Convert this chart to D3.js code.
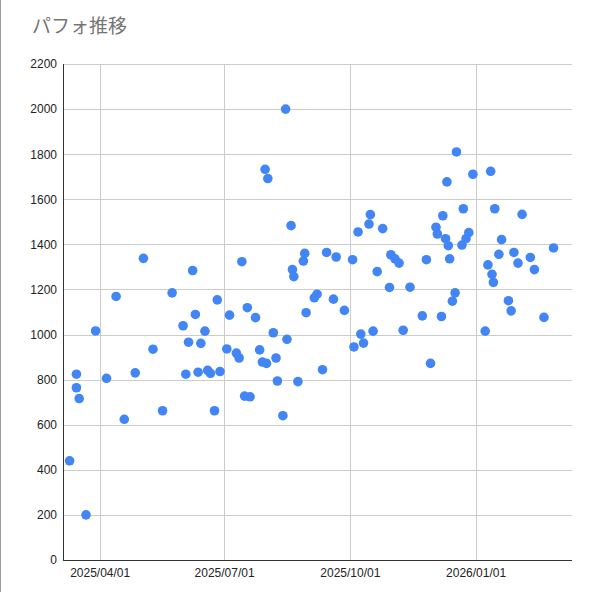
<!DOCTYPE html>
<html>
<head>
<meta charset="utf-8">
<script src="https://cdn.jsdelivr.net/npm/d3@7"></script>
<style>
  body { margin: 0; background: #fff; }
  #container { width: 598px; height: 592px; position: relative; }
</style>
</head>
<body>
<div id="container"></div>
<script>
// chart title and axis ticks
const title = "パフォ推移";
const yTicks = [0, 200, 400, 600, 800, 1000, 1200, 1400, 1600, 1800, 2000, 2200];
const xTicks = ["2025-04-01", "2025-07-01", "2025-10-01", "2026-01-01"];

// points
const dates = [
  "2025-03-10","2025-03-15","2025-03-15","2025-03-17","2025-03-22","2025-03-29",
  "2025-04-06","2025-04-13","2025-04-19","2025-04-27","2025-05-03","2025-05-10",
  "2025-05-17","2025-05-24","2025-06-01","2025-06-03","2025-06-05","2025-06-08",
  "2025-06-10","2025-06-12","2025-06-14","2025-06-17","2025-06-19","2025-06-21",
  "2025-06-24","2025-06-26","2025-06-28","2025-07-03","2025-07-05","2025-07-10",
  "2025-07-12","2025-07-14","2025-07-16","2025-07-18","2025-07-20","2025-07-24",
  "2025-07-27","2025-07-29","2025-07-31","2025-08-01","2025-08-02","2025-08-06",
  "2025-08-08","2025-08-09","2025-08-13","2025-08-15","2025-08-16","2025-08-19",
  "2025-08-20","2025-08-21","2025-08-24","2025-08-28","2025-08-29","2025-08-30",
  "2025-09-05","2025-09-07","2025-09-11","2025-09-14","2025-09-19","2025-09-21",
  "2025-09-27","2025-10-03","2025-10-04","2025-10-07","2025-10-09","2025-10-11",
  "2025-10-15","2025-10-16","2025-10-18","2025-10-21","2025-10-25","2025-10-30",
  "2025-10-31","2025-11-03","2025-11-06","2025-11-09","2025-11-14","2025-11-23",
  "2025-11-26","2025-11-29","2025-12-03","2025-12-04","2025-12-07","2025-12-08",
  "2025-12-10","2025-12-11","2025-12-12","2025-12-13","2025-12-15","2025-12-17",
  "2025-12-18","2025-12-22","2025-12-23","2025-12-25","2025-12-27","2025-12-30",
  "2026-01-08","2026-01-10","2026-01-12","2026-01-13","2026-01-14","2026-01-15",
  "2026-01-18","2026-01-20","2026-01-25","2026-01-27","2026-01-29","2026-02-01",
  "2026-02-04","2026-02-10","2026-02-13","2026-02-20","2026-02-27"
];
const scores = [
  440, 824, 764, 716, 200, 1016,
  806, 1169, 624, 830, 1338, 935,
  662, 1185, 1039, 824, 966, 1284,
  1089, 833, 961, 1015, 841, 828,
  662, 1154, 836, 936, 1086, 918,
  896, 1323, 727, 1119, 724, 1075,
  932, 878, 1733, 872, 1692, 1008,
  896, 794, 640, 2000, 979, 1483,
  1288, 1257, 791, 1326, 1360, 1097,
  1163, 1179, 844, 1364, 1157, 1344,
  1107, 1332, 945, 1455, 1002, 962,
  1490, 1532, 1015, 1279, 1470, 1209,
  1354, 1336, 1317, 1019, 1210, 1083,
  1332, 872, 1476, 1446, 1080, 1527,
  1425, 1677, 1394, 1336, 1148, 1185,
  1810, 1397, 1558, 1425, 1452, 1711,
  1015, 1309, 1724, 1267, 1231, 1558,
  1356, 1421, 1150, 1105, 1364, 1317,
  1533, 1342, 1288, 1076, 1384
];

const parse = d3.timeParse("%Y-%m-%d");
const fmt = d3.timeFormat("%Y/%m/%d");
const data = dates.map((d, i) => ({date: parse(d), value: scores[i]}));

const W = 598, H = 592;
const margin = {top: 64, right: 26, bottom: 32, left: 63},
    width = W - margin.left - margin.right,
    height = H - margin.top - margin.bottom;

const root = d3.select("#container")
  .append("svg")
    .attr("width", W)
    .attr("height", H);

// left border of the chart box
root.append("line")
  .attr("x1", 0.5).attr("x2", 0.5).attr("y1", 0).attr("y2", H)
  .attr("stroke", "#9e9e9e").attr("stroke-width", 1);

root.append("text")
  .attr("x", 32).attr("y", 33)
  .attr("fill", "#757575")
  .style("font-family", "'Noto Sans CJK JP', sans-serif")
  .style("font-size", "19px")
  .text(title);

const svg = root.append("g")
  .attr("transform", `translate(${margin.left},${margin.top})`);

// x domain: a bit before first point to a bit after last, like Sheets does
const x = d3.scaleTime()
  .domain([new Date(2025, 2, 5, 4), new Date(2026, 2, 12, 12)])
  .range([0, width]);

const y = d3.scaleLinear()
  .domain([0, 2200])
  .range([height, 0]);

// gridlines
svg.append("g")
  .selectAll("line")
  .data(yTicks.filter(d => d > 0))
  .join("line")
    .attr("x1", 0).attr("x2", width)
    .attr("y1", d => Math.round(y(d)) + 0.5)
    .attr("y2", d => Math.round(y(d)) + 0.5)
    .attr("stroke", "#cccccc");

svg.append("g")
  .selectAll("line")
  .data(xTicks.map(parse))
  .join("line")
    .attr("x1", d => Math.round(x(d)) + 0.5)
    .attr("x2", d => Math.round(x(d)) + 0.5)
    .attr("y1", 0).attr("y2", height)
    .attr("stroke", "#cccccc");

// y axis labels
const yAxis = svg.append("g")
  .call(d3.axisLeft(y).tickValues(yTicks).tickSize(0).tickPadding(6).tickFormat(d3.format("d")));
yAxis.select(".domain").remove();
yAxis.selectAll("text")
  .style("font-family", "Arial, 'Liberation Sans', sans-serif")
  .style("font-size", "12px")
  .attr("fill", "#222");

// x axis labels
const xAxis = svg.append("g")
  .attr("transform", `translate(0,${height})`)
  .call(d3.axisBottom(x).tickValues(xTicks.map(parse)).tickSize(0).tickPadding(8).tickFormat(fmt));
xAxis.select(".domain").remove();
xAxis.selectAll("text")
  .style("font-family", "Arial, 'Liberation Sans', sans-serif")
  .style("font-size", "12px")
  .attr("fill", "#222");

// axis lines
svg.append("line")
  .attr("x1", 0.5).attr("x2", 0.5).attr("y1", 0).attr("y2", height)
  .attr("stroke", "#333");
svg.append("line")
  .attr("x1", 0).attr("x2", width).attr("y1", height + 0.5).attr("y2", height + 0.5)
  .attr("stroke", "#333");

// points
svg.append("g")
  .selectAll("circle")
  .data(data)
  .join("circle")
    .attr("cx", d => x(d.date))
    .attr("cy", d => y(d.value))
    .attr("r", 4.8)
    .attr("fill", "#4285f4");
</script>
</body>
</html>
